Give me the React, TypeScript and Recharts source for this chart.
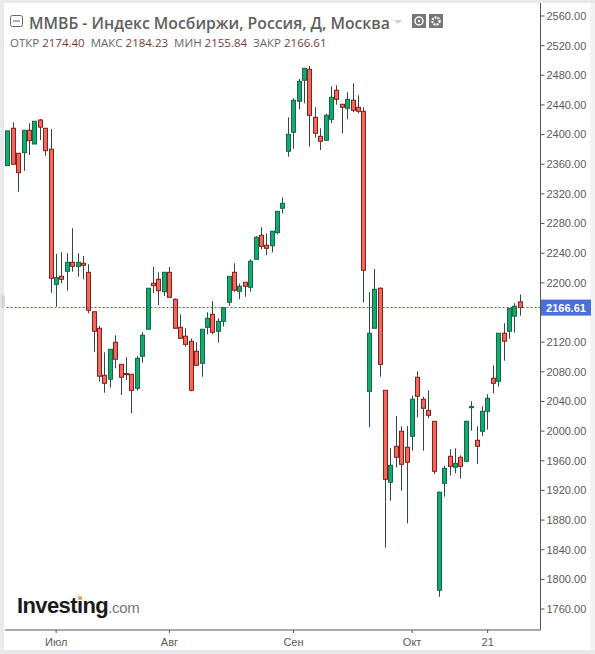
import { Bar, ComposedChart, ReferenceLine, XAxis, YAxis } from 'recharts';

const openPrices = [
  2358, 2408.5, 2374.8, 2375.6, 2405.8, 2387.3, 2419.7, 2408.5, 2380.2, 2198, 2208.9, 2215.6, 2227.7, 2222.3, 2226.4, 2214.2,
  2161, 2138.7, 2075.3, 2070, 2119.8, 2090, 2077.5, 2076.7, 2057.8, 2101, 2137.4, 2199.4, 2204.8, 2188, 2214.2, 2177.8,
  2140, 2128, 2121.2, 2107.7, 2091.5, 2140, 2157.6, 2134.7, 2148.1, 2173.8, 2214.2, 2188.6, 2200.8, 2194, 2231.8, 2264.2,
  2250.7, 2250, 2267.7, 2300.6, 2377.5, 2403.1, 2445, 2473.3, 2488.1, 2423.3, 2397.7, 2392.3, 2420.6, 2459.8, 2440.9, 2435.5,
  2446.3, 2436.8, 2431.4, 2053.7, 2138.7, 2192.7, 2055, 1931, 1979.5, 1999.8, 1978.2, 1993, 2072.6, 2043, 2028, 2013.2,
  1785.3, 1929.6, 1966, 1951.2, 1964.7, 1959.3, 2032.3, 1987.6, 1999.8, 2026.7, 2071.3, 2067.2, 2132, 2134.7, 2155, 2174.4,
];
const closePrices = [
  2405, 2360, 2348.6, 2405.8, 2391.8, 2418, 2410, 2378.3, 2206.2, 2207, 2204.8, 2227.7, 2222.3, 2227.7, 2223.7, 2163,
  2134.7, 2074, 2064.5, 2110.4, 2096.9, 2072.6, 2076.2, 2055, 2098.2, 2129.3, 2192.7, 2196.2, 2189.4, 2214.2, 2180.5, 2138.7,
  2125.2, 2117, 2055, 2088.8, 2137.4, 2152.2, 2133.3, 2148.1, 2166.5, 2208.8, 2190, 2195.4, 2195.4, 2229.1, 2261.5, 2249.3,
  2246.6, 2269.6, 2296.5, 2307.3, 2400.4, 2446.3, 2471.9, 2489.4, 2426, 2401.8, 2391, 2426, 2450.3, 2447.6, 2436.8, 2447.6,
  2432.8, 2431.4, 2217, 2132, 2191.3, 2090, 1935, 1954, 1964.7, 1955.2, 1958, 2043, 2047, 2030.8, 2021.3, 1945.8,
  1917.5, 1949.8, 1952.5, 1956.6, 1952.5, 2013.2, 2033, 1979.5, 2026.7, 2044.3, 2064.5, 2132, 2121.2, 2165.7, 2168.4, 2166.61,
];
const highPrices = [
  2405, 2416.6, 2374.8, 2405.8, 2415.3, 2418, 2421, 2408.5, 2407.6, 2239, 2241.2, 2240, 2273.6, 2240, 2236.2, 2225,
  2161, 2142, 2106.3, 2110.4, 2129.3, 2090, 2099.6, 2076.7, 2101, 2133.7, 2192.7, 2221.4, 2214.2, 2214.2, 2221.4, 2179,
  2157.6, 2138.7, 2125, 2119.8, 2137.4, 2160.3, 2175.5, 2152.2, 2166.5, 2208.8, 2226.4, 2199, 2200.8, 2231.8, 2263, 2275,
  2266.9, 2269.6, 2296.5, 2315.4, 2423.3, 2449, 2475, 2489.4, 2492.5, 2436.8, 2408.5, 2428, 2465.2, 2466.5, 2440.9, 2457.1,
  2469.2, 2453, 2436.8, 2187.3, 2218.7, 2194, 2055, 1977.2, 2020.4, 2006.5, 2006.9, 2047.8, 2080.7, 2046.4, 2055, 2013.2,
  1918.5, 1953.3, 1975.5, 1976.8, 1967.4, 2014, 2040.2, 2006.5, 2033.5, 2049.7, 2088.8, 2132, 2145.5, 2165.7, 2172.4, 2184.23,
];
const lowPrices = [
  2358, 2360, 2323, 2351, 2372.5, 2387.3, 2392.7, 2371.5, 2186.7, 2167.9, 2199.4, 2189.4, 2215, 2208.3, 2204.8, 2159,
  2107, 2066.7, 2051.8, 2058.6, 2084.7, 2048.7, 2069, 2024, 2055, 2092.3, 2137.4, 2186, 2170, 2182.3, 2180.5, 2138.7,
  2125.2, 2114, 2053.7, 2088.8, 2073.4, 2130.6, 2130.6, 2119.3, 2141, 2169.2, 2188, 2178, 2181.3, 2188, 2231.8, 2245.3,
  2237.2, 2241.2, 2265.5, 2293.8, 2370.2, 2381, 2434, 2442.2, 2383.7, 2395.8, 2379.2, 2392.3, 2415.2, 2440.3, 2401.8, 2420.6,
  2430.1, 2428.7, 2173.8, 2005.2, 2138.7, 2073.4, 1842.7, 1906, 1951.2, 1919.6, 1875.6, 1973.6, 2018.6, 1973.6, 2017.3, 1941.8,
  1776.6, 1911.5, 1939.9, 1943, 1935.8, 1958, 2000.6, 1956, 1993, 2002, 2051, 2060, 2095, 2124.7, 2132.8, 2155.84,
];

// 2160 sits behind the last price tag in the reference, so it has no label here
const priceTicks = [1760, 1800, 1840, 1880, 1920, 1960, 2000, 2040, 2080, 2120, 2200, 2240, 2280, 2320, 2360, 2400, 2440, 2480, 2520, 2560];
const monthTicks = [9, 30, 53, 75, 89];
const monthLabels = ['Июл', 'Авг', 'Сен', 'Окт', '21'];
const LAST_PRICE = 2166.61;

const candles = openPrices.map((open, i) => ({
  idx: i,
  open,
  close: closePrices[i],
  high: highPrices[i],
  low: lowPrices[i],
}));

const GREEN = { fill: '#16a86c', stroke: '#0f6a47' };
const RED = { fill: '#ef6a5e', stroke: '#8c1c18' };
const WICK = '#2f4a44';
const AXIS = '#555555';
const TICK_FONT = { fill: '#5a5a5a', fontSize: 11, fontFamily: '"Liberation Sans", Arial, sans-serif' };

function Candle(props: any) {
  const { x, y, width, height, payload } = props;
  const { open, close, high, low } = payload;
  const h = Math.abs(height);
  const ratio = high === low ? 0 : h / (high - low);
  const cx = Math.round(x + width / 2) + 0.5;
  const top = y + (high - Math.max(open, close)) * ratio;
  const bodyH = Math.max(Math.abs(open - close) * ratio, 1);
  const colors = close >= open ? GREEN : RED;
  return (
    <g>
      <line x1={cx} x2={cx} y1={y} y2={y + h} stroke={WICK} strokeWidth={1} />
      <rect x={cx - 2} y={top} width={4} height={bodyH} fill={colors.fill} stroke={colors.stroke} strokeWidth={1} />
    </g>
  );
}

function PriceTag(props: any) {
  const y = props.viewBox.y;
  const right = props.viewBox.x + props.viewBox.width;
  return (
    <g>
      <rect x={right + 0.5} y={y - 8} width={50} height={16} fill="#4a6fdc" />
      <text
        x={right + 25.5}
        y={y + 4}
        textAnchor="middle"
        fill="#ffffff"
        fontSize={11}
        fontWeight={700}
        fontFamily='"Liberation Sans", Arial, sans-serif'
      >
        {LAST_PRICE.toFixed(2)}
      </text>
    </g>
  );
}

export default function App() {
  return (
    <div style={{ position: 'absolute', left: 0, top: 0, width: 595, height: 654, background: '#e9e9eb', overflow: 'hidden' }}>
      <div style={{ position: 'absolute', left: 590, top: 3, width: 5, height: 647, background: '#f3f3f4' }} />
      <div style={{ position: 'absolute', left: 4, top: 3, width: 586, height: 647, background: '#ffffff' }} />
      <div style={{ position: 'absolute', left: 0, top: 0 }}>
        <ComposedChart width={595} height={654} data={candles} margin={{ top: 3, right: 0, bottom: 0, left: 4.9 }}>
          <XAxis
            dataKey="idx"
            type="number"
            domain={[-0.5, 98.8]}
            allowDataOverflow
            ticks={monthTicks}
            tickFormatter={(v: number) => monthLabels[monthTicks.indexOf(v)]}
            height={24}
            tick={TICK_FONT}
            tickSize={3}
            tickMargin={5}
            axisLine={{ stroke: AXIS }}
            tickLine={{ stroke: AXIS }}
          />
          <YAxis
            orientation="right"
            domain={[1731.7, 2577.5]}
            allowDataOverflow
            ticks={priceTicks}
            interval={0}
            tickFormatter={(v: number) => v.toFixed(2)}
            width={54.5}
            tick={TICK_FONT}
            tickSize={4}
            tickMargin={2}
            axisLine={{ stroke: AXIS }}
            tickLine={{ stroke: AXIS }}
          />
          <ReferenceLine y={LAST_PRICE} stroke="#3a55c4" strokeDasharray="2 2" label={<PriceTag />} />
          <Bar dataKey={(d: any) => [d.low, d.high]} barSize={5} shape={<Candle />} isAnimationActive={false} />
        </ComposedChart>
      </div>

      {/* header */}
      <svg width={16} height={16} style={{ position: 'absolute', left: 10, top: 15 }}>
        <rect x={0.5} y={0.5} width={12} height={11} rx={2} fill="none" stroke="#666" />
        <line x1={3} x2={10} y1={6} y2={6} stroke="#666" />
      </svg>
      <div style={{ position: 'absolute', left: 29, top: 12, whiteSpace: 'nowrap', fontFamily: '"Open Sans", sans-serif', fontWeight: 600, fontSize: 15.75, color: '#5f5f5f' }}>
        ММВБ - Индекс Мосбиржи, Россия, Д, Москва
      </div>
      <svg width={10} height={6} style={{ position: 'absolute', left: 394, top: 20 }}>
        <path d="M0 0 L8 0 L4 4 Z" fill="#cfcfcf" />
      </svg>
      <svg width={32} height={16} style={{ position: 'absolute', left: 412, top: 14 }}>
        <rect x={0} y={0} width={14} height={14} fill="#777" />
        <circle cx={7} cy={7} r={4} fill="none" stroke="#fff" strokeWidth={1.5} />
        <circle cx={7} cy={7} r={1.2} fill="#fff" />
        <rect x={17} y={0} width={14} height={14} fill="#777" />
        <circle cx={24} cy={7} r={3.6} fill="none" stroke="#fff" strokeWidth={2.2} strokeDasharray="2 1" />
      </svg>
      <div style={{ position: 'absolute', left: 10, top: 35, whiteSpace: 'nowrap', fontFamily: '"Open Sans", sans-serif', fontSize: 11.5, color: '#666' }}>
        ОТКР <span style={{ color: '#7d3a3a' }}>2174.40</span>
        <span style={{ marginLeft: 6 }}>МАКС</span> <span style={{ color: '#7d3a3a' }}>2184.23</span>
        <span style={{ marginLeft: 6 }}>МИН</span> <span style={{ color: '#7d3a3a' }}>2155.84</span>
        <span style={{ marginLeft: 6 }}>ЗАКР</span> <span style={{ color: '#7d3a3a' }}>2166.61</span>
      </div>

      {/* left edge handle */}
      <div style={{ position: 'absolute', left: 1, top: 295, width: 4, height: 13, borderRadius: 2, background: '#d4d4d6' }} />

      {/* logo */}
      <div style={{ position: 'absolute', left: 17, top: 593, whiteSpace: 'nowrap', fontFamily: '"Liberation Sans", Arial, sans-serif', color: '#1a1a1a' }}>
        <span style={{ fontWeight: 700, fontSize: 22, letterSpacing: -0.6 }}>Investing</span>
        <span style={{ fontSize: 15, color: '#777', letterSpacing: -0.3 }}>.com</span>
      </div>
      <div style={{ position: 'absolute', left: 78, top: 596, width: 4, height: 4, borderRadius: 2, background: '#f2a43a' }} />
    </div>
  );
}
